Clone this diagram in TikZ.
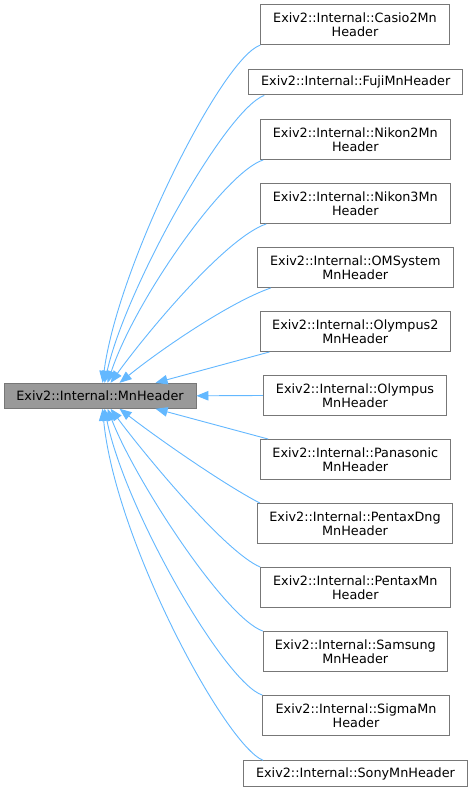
\documentclass[tikz,border=0pt]{standalone}
\usepackage{fontspec}
\setmainfont{DejaVu Sans}
\usetikzlibrary{arrows.meta}
\definecolor{edgeblue}{HTML}{63B8FF}
\definecolor{boxborder}{HTML}{777777}
\definecolor{focusfill}{HTML}{999999}
\begin{document}
\begin{tikzpicture}[x=1pt,y=-1pt,
  every node/.style={font=\fontsize{12.8}{14.2}\selectfont, align=center, inner sep=0pt},
  cls/.style={draw=boxborder, fill=white, line width=0.9pt, minimum height=40pt},
  clsone/.style={draw=boxborder, fill=white, line width=0.9pt, minimum height=25.5pt},
  focus/.style={draw=boxborder, fill=focusfill, line width=0.9pt, minimum height=25pt, minimum width=192pt},
  edge/.style={draw=edgeblue, line width=0.9pt, {Triangle[length=12pt,width=9.5pt,fill=edgeblue]}-}
]
\useasboundingbox[fill=white] (0,0) rectangle (472,791);

\node[focus] (base) at (100,395.8) {Exiv2::Internal::MnHeader};

\node[cls, minimum width=188.6pt] (casio) at (355,24.7) {Exiv2::Internal::Casio2Mn\\Header};
\node[clsone, minimum width=214pt] (fuji) at (355.7,82.2) {Exiv2::Internal::FujiMnHeader};
\node[cls, minimum width=189.3pt] (nikon2) at (355.3,139.5) {Exiv2::Internal::Nikon2Mn\\Header};
\node[cls, minimum width=189.3pt] (nikon3) at (355.3,203.5) {Exiv2::Internal::Nikon3Mn\\Header};
\node[cls, minimum width=196pt] (oms) at (355.3,267.5) {Exiv2::Internal::OMSystem\\MnHeader};
\node[cls, minimum width=190.7pt] (oly2) at (355.3,331.5) {Exiv2::Internal::Olympus2\\MnHeader};
\node[cls, minimum width=183.4pt] (oly) at (355,395.5) {Exiv2::Internal::Olympus\\MnHeader};
\node[cls, minimum width=189.3pt] (pana) at (355.3,459.5) {Exiv2::Internal::Panasonic\\MnHeader};
\node[cls, minimum width=195.4pt] (pdng) at (355,523.5) {Exiv2::Internal::PentaxDng\\MnHeader};
\node[cls, minimum width=189.3pt] (pmn) at (355.3,587.5) {Exiv2::Internal::PentaxMn\\Header};
\node[cls, minimum width=184pt] (sams) at (355.3,651.5) {Exiv2::Internal::Samsung\\MnHeader};
\node[cls, minimum width=186.6pt] (sigma) at (356,715.5) {Exiv2::Internal::SigmaMn\\Header};
\node[clsone, minimum width=224pt] (sony) at (355.5,773.5) {Exiv2::Internal::SonyMnHeader};

% upper edges
\draw[edge] ([xshift=99pt]base.north west) .. controls (118,265) and (222,58) .. (casio.south west);
\draw[edge] ([xshift=101pt]base.north west) .. controls (125,290) and (225,110) .. ([xshift=16pt]fuji.south west);
\draw[edge] ([xshift=104pt]base.north west) .. controls (135,300) and (225,172) .. ([xshift=3pt]nikon2.south west);
\draw[edge] ([xshift=107pt]base.north west) .. controls (145,335) and (225,238) .. ([xshift=6pt]nikon3.south west);
\draw[edge] ([xshift=116pt]base.north west) .. controls (160,350) and (230,302) .. ([xshift=14pt]oms.south west);
\draw[edge] ([xshift=152pt]base.north west) -- ([xshift=10pt]oly2.south west);
\draw[edge] (base.east) -- (oly.west);
% lower edges
\draw[edge] ([xshift=152pt]base.south west) -- ([xshift=8pt]pana.north west);
\draw[edge] ([xshift=116pt]base.south west) .. controls (160,440) and (225,485) .. ([xshift=3pt]pdng.north west);
\draw[edge] ([xshift=107pt]base.south west) .. controls (145,455) and (225,552) .. (pmn.north west);
\draw[edge] ([xshift=104pt]base.south west) .. controls (135,480) and (225,618) .. (sams.north west);
\draw[edge] ([xshift=101pt]base.south west) .. controls (125,510) and (225,683) .. (sigma.north west);
\draw[edge] ([xshift=99pt]base.south west) .. controls (115,540) and (225,745) .. ([xshift=20pt]sony.north west);
\end{tikzpicture}
\end{document}
